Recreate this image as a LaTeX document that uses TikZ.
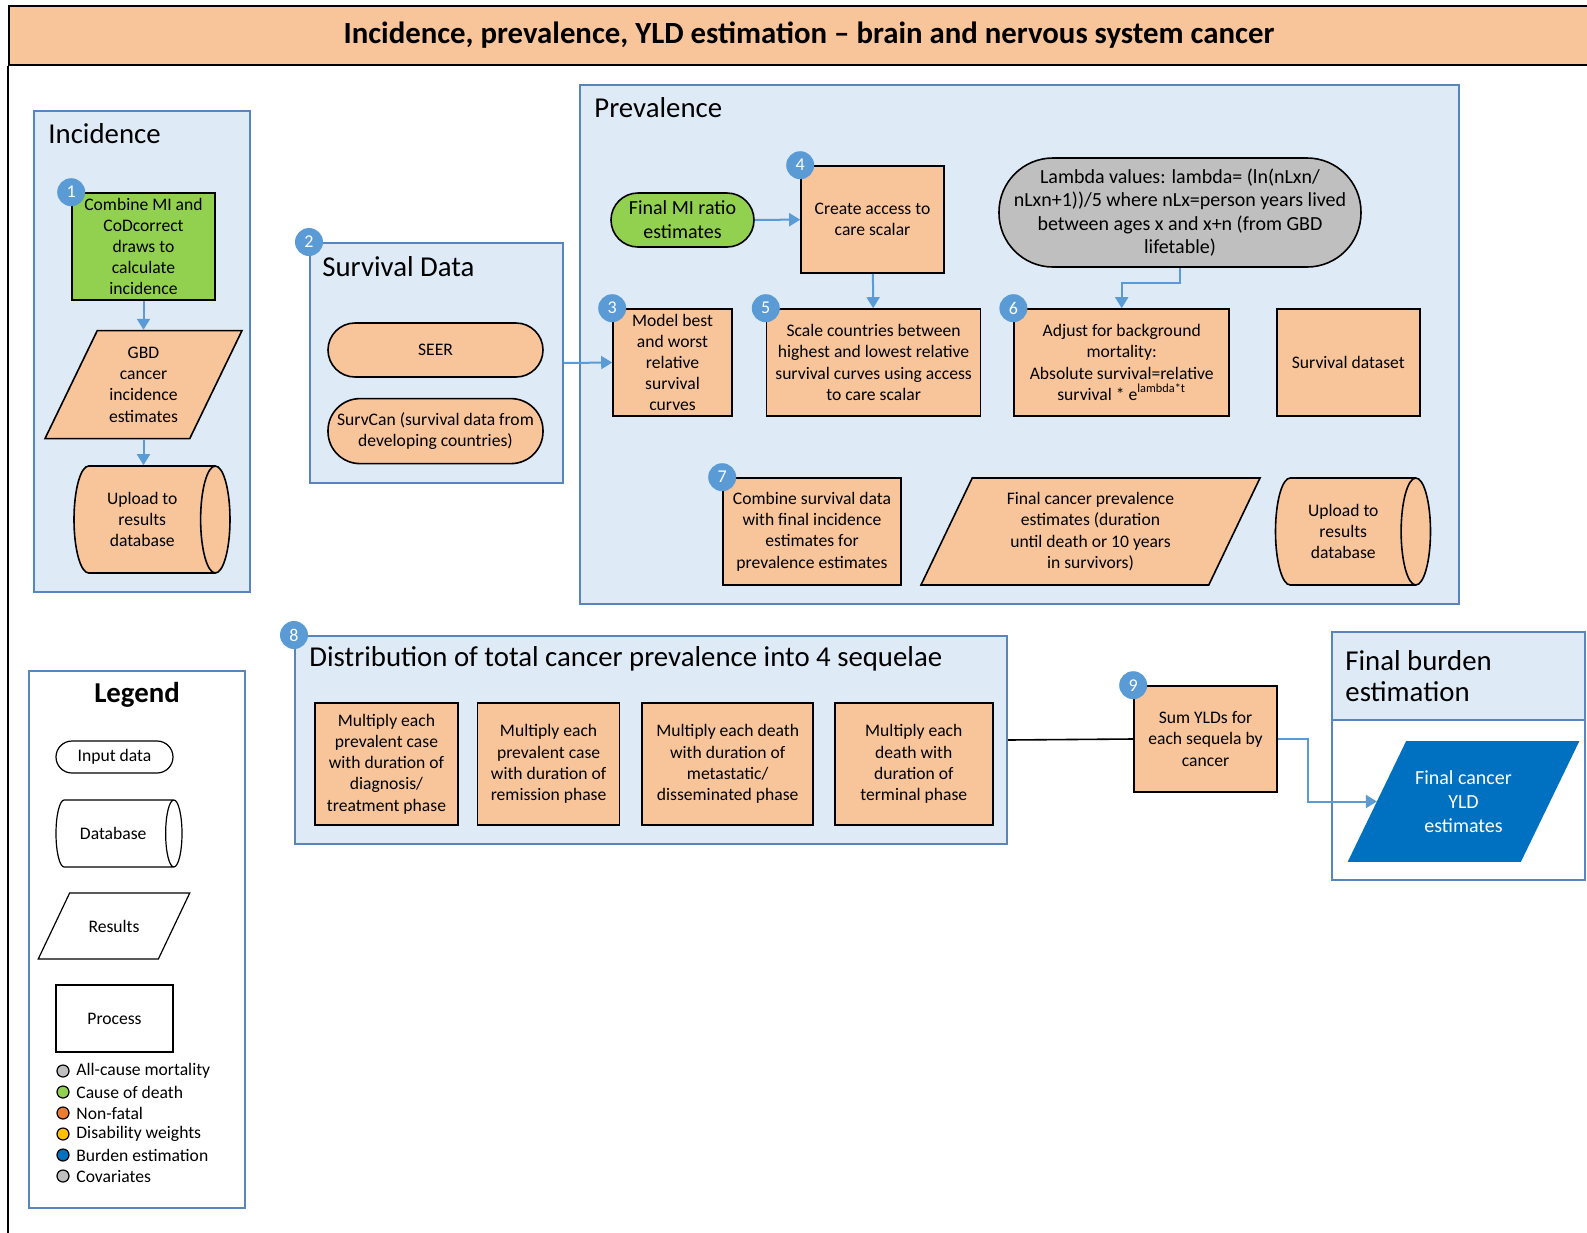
\documentclass[tikz,border=0pt]{standalone}
\usepackage{fontspec}
\setmainfont{Carlito}
\usetikzlibrary{positioning, shapes.geometric, arrows.meta}

\definecolor{orfill}{RGB}{248,197,155}
\definecolor{grpfill}{RGB}{222,235,247}
\definecolor{grpline}{RGB}{88,133,190}
\definecolor{flowblue}{RGB}{91,155,213}
\definecolor{codgreen}{RGB}{146,208,80}
\definecolor{acmgray}{RGB}{191,191,191}
\definecolor{burdenblue}{RGB}{0,112,192}
\definecolor{nfatal}{RGB}{237,125,49}
\definecolor{dwyellow}{RGB}{255,192,0}

\begin{document}
\begin{tikzpicture}[x=0.5pt, y=-0.5pt,
  font=\fontsize{8.8}{10.6}\selectfont,
  grp/.style={draw=grpline, fill=grpfill, line width=1pt, inner sep=0pt},
  grptitle/.style={anchor=west, inner sep=0pt, align=left, font=\fontsize{14.4}{15.5}\selectfont},
  proc/.style={draw, fill=orfill, line width=0.8pt, align=center, inner sep=1pt},
  inp/.style={proc, rounded corners=#1},
  res/.style={proc, trapezium, trapezium left angle=64, trapezium right angle=116, trapezium stretches body, inner ysep=#1},
  dbase/.style={proc, cylinder, aspect=0.5, anchor=shape center},
  badge/.style={circle, fill=flowblue, text=white, minimum size=14pt, inner sep=0pt, font=\fontsize{9}{9}\selectfont},
  flow/.style={draw=flowblue, line width=1pt, -{Triangle[length=5.5pt, width=6.5pt]}},
  dot/.style={circle, draw, line width=0.6pt, minimum size=6pt, inner sep=0pt}]

\clip (0,0) rectangle (1587,1233);

% title bar and frame
\node[draw, fill=orfill, line width=1pt, minimum width=800pt, minimum height=29.5pt, font=\bfseries\fontsize{15.4}{18}\selectfont] (title) at (809,35.5) {Incidence, prevalence, YLD estimation – brain and nervous system cancer};
\draw[line width=1pt] (title.south west) -- ++(0,1200);

% groups
\node[grp, minimum width=108pt, minimum height=240.5pt] (inc) at (142,351.5) {};
\node[grp, minimum width=126.5pt, minimum height=120pt] (surv) at (436.5,363) {};
\node[grp, minimum width=439.5pt, minimum height=259.5pt] (prev) at (1019.5,344.5) {};
\node[grp, minimum width=356pt, minimum height=104pt] (dist) at (651,740) {};
\node[grp, fill=white, minimum width=126.5pt, minimum height=124pt] (burden) at (1458.5,756) {};
\node[grp, anchor=north, minimum width=126.5pt, minimum height=44pt] (burdenhd) at (burden.north) {};
\node[grp, fill=white, minimum width=108pt, minimum height=268.5pt] (legend) at (137,939.5) {};

\node[grptitle] (inctitle) at (48,134) {Incidence};
\node[grptitle] (survtitle) at (322,267) {Survival Data};
\node[grptitle] (prevtitle) at (594,108) {Prevalence};
\node[grptitle] (disttitle) at (309,659) {Distribution of total cancer prevalence into 4 sequelae};
\node[grptitle] (burdentitle) at (1345,676) {Final burden\\estimation};
\node[font=\bfseries\fontsize{14.4}{17}\selectfont] (legtitle) at (137,695) {Legend};

% incidence
\node[proc, fill=codgreen, minimum width=71.5pt, minimum height=53.5pt] (n1) at (143.5,246.5) {Combine MI and\\CoDcorrect\\draws to\\calculate\\incidence};
\node[res=8pt, minimum width=98.5pt, minimum height=54pt, below=14.5pt of n1] (gbd) {GBD\\cancer\\incidence\\estimates};
\node[dbase, minimum width=53.5pt, minimum height=78pt] (db1) at (152,519.5) {Upload to\\results\\database};

% survival data
\node[inp=13.5pt, minimum width=107.5pt, minimum height=27pt] (seer) at (435.5,350) {SEER};
\node[inp=16pt, minimum width=107.5pt, minimum height=32.5pt, below=10pt of seer] (survcan) {SurvCan (survival data from\\developing countries)};

% prevalence
\node[inp=13.5pt, fill=codgreen, minimum width=71.5pt, minimum height=27pt, font=\fontsize{10}{12}\selectfont] (mi) at (682.5,220) {Final MI ratio\\estimates};
\node[proc, minimum width=71.5pt, minimum height=53.5pt] (n4) at (872.5,219.5) {Create access to\\care scalar};
\node[inp=27pt, fill=acmgray, minimum width=181pt, minimum height=54.5pt, font=\fontsize{10}{11.6}\selectfont] (lam) at (1180,212.5) {Lambda values: lambda= (ln(nLxn/\\nLxn+1))/5 where nLx=person years lived\\between ages x and x+n (from GBD\\lifetable)};
\node[proc, minimum width=59.5pt, minimum height=53.5pt] (n3) at (672.5,362.5) {Model best\\and worst\\relative\\survival\\curves};
\node[proc, minimum width=107pt, minimum height=53.5pt, right=16.5pt of n3] (n5) {Scale countries between\\highest and lowest relative\\survival curves using access\\to care scalar};
\node[proc, minimum width=107.5pt, minimum height=53.5pt, right=16pt of n5] (n6) {Adjust for background\\mortality:\\Absolute survival=relative\\survival * e\textsuperscript{lambda*t}};
\node[proc, minimum width=71.5pt, minimum height=53.5pt, right=23pt of n6] (sds) {Survival dataset};
\node[proc, minimum width=89pt, minimum height=53.5pt] (n7) at (812,531.5) {Combine survival data\\with final incidence\\estimates for\\prevalence estimates};
\node[res=6.7pt, minimum width=169.5pt, minimum height=53.5pt] (fpe) at (1090.5,531.5) {Final cancer prevalence\\estimates (duration\\until death or 10 years\\in survivors)};
\node[dbase, minimum width=53.5pt, minimum height=77.5pt] (db2) at (1353,531.5) {Upload to\\results\\database};

% sequelae
\node[proc, minimum width=71.5pt, minimum height=61pt] (sa) at (386.5,764) {Multiply each\\prevalent case\\with duration of\\diagnosis/\\treatment phase};
\node[proc, minimum width=71pt, minimum height=61pt, right=9pt of sa] (sb) {Multiply each\\prevalent case\\with duration of\\remission phase};
\node[proc, minimum width=85.5pt, minimum height=61pt, right=10.5pt of sb] (sc) {Multiply each death\\with duration of\\metastatic/\\disseminated phase};
\node[proc, minimum width=79pt, minimum height=61pt, right=10pt of sc] (sd) {Multiply each\\death with\\duration of\\terminal phase};

% burden
\node[proc, minimum width=71.5pt, minimum height=53pt] (n9) at (1205.5,739) {Sum YLDs for\\each sequela by\\cancer};
\node[res=14pt, draw=burdenblue, fill=burdenblue, text=white, minimum width=114.5pt, minimum height=59.5pt, font=\fontsize{10}{12}\selectfont] (yld) at (1463.5,801.5) {Final cancer\\YLD\\estimates};

% legend
\node[inp=8pt, fill=white, line width=0.6pt, minimum width=58.5pt, minimum height=16pt] (linp) at (114.5,757) {Input data};
\node[dbase, aspect=1, fill=white, line width=0.6pt, minimum width=33.5pt, minimum height=63pt] (ldb) at (119,833.5) {Database};
\node[res=13pt, fill=white, line width=0.6pt, minimum width=75.75pt, minimum height=33pt] (lres) at (114,926) {Results};
\node[proc, fill=white, line width=0.6pt, minimum width=58.5pt, minimum height=33.5pt] (lproc) at (114.5,1018.5) {Process};
\foreach \c/\t [count=\i] in {acmgray/All-cause mortality, codgreen/Cause of death, nfatal/Non-fatal, dwyellow/Disability weights, burdenblue/Burden estimation, acmgray/Covariates}
{
  \node[dot, fill=\c] (dot\i) at (63,1050+21*\i) {};
  \node[anchor=west, inner sep=0pt, font=\fontsize{8.8}{10}\selectfont] (item\i) at (76,1050+21*\i) {\t};
}

% step numbers
\foreach \n/\b in {n1/1, surv/2, n3/3, n4/4, n5/5, n6/6, n7/7, dist/8, n9/9}
  \node[badge] (b\b) at (\n.north west) {\b};

% connectors
\draw[flow] (n1) -- (gbd);
\draw[flow] (gbd.south) -- (gbd.south |- db1.north);
\draw[flow] (surv.east) -- (n3.west);
\draw[flow] (mi) -- (n4);
\draw[flow] (n4) -- (n5);
\draw[flow] (lam.south) -- ++(0,15) -| (n6.north);
\draw[line width=0.8pt] (dist.east) -- (n9.west);
\draw[flow] (n9.east) -- ++(30,0) |- (yld.west);
\end{tikzpicture}
\end{document}
